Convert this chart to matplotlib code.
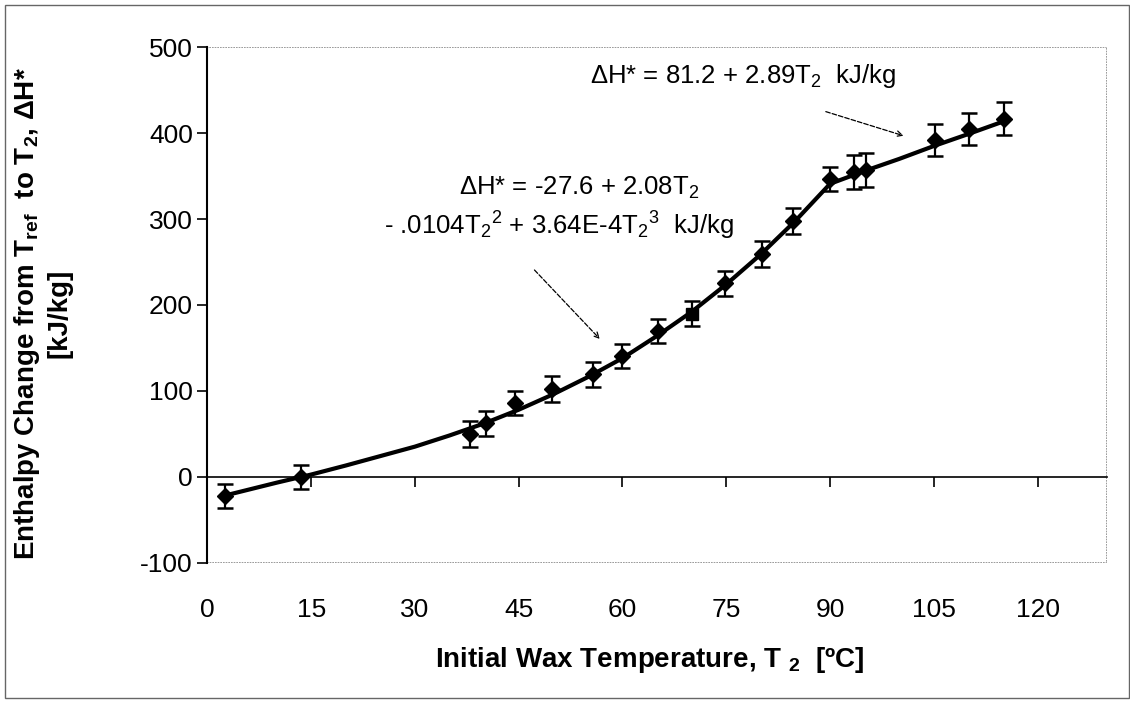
import numpy as np
import matplotlib
matplotlib.use("Agg")
import matplotlib.pyplot as plt
from matplotlib.patches import Rectangle
from matplotlib.transforms import ScaledTranslation

plt.rcParams['font.family'] = ['Liberation Sans', 'DejaVu Sans']
plt.rcParams['mathtext.fontset'] = 'custom'
plt.rcParams['mathtext.rm'] = 'Liberation Sans'
plt.rcParams['mathtext.bf'] = 'Liberation Sans:bold'
plt.rcParams['mathtext.default'] = 'rm'
plt.rcParams['axes.unicode_minus'] = False

# dados medidos (diamantes)
temps = [2.5, 13.5, 38, 40.3, 44.5, 49.8, 55.8, 60, 65.1, 74.8, 80.1, 84.6, 90, 93.4, 95.2, 105.1, 110.1, 115.2]
enth = [-22, 0, 50, 62, 86, 102, 119, 140, 170, 225, 259, 298, 347, 355, 357, 392, 405, 417]
err = [14, 14, 15, 15, 14, 15, 15, 14, 14, 15, 15, 15, 14, 20, 20, 19, 19, 19]

# ponto quadrado
sq_temp = [70]
sq_enth = [190]
sq_err = [15]

# curva ajustada
fit_t = [2.5, 5, 10, 15, 20, 25, 30, 35, 40, 45, 50, 55, 60, 65, 70, 75, 80, 85, 90, 95, 100, 105, 110, 115.2]
fit_h = [-22, -17, -7, 2.5, 13, 24, 35, 48, 62, 78, 96, 116, 138, 164, 192, 224, 259, 298, 341, 356, 370, 385, 399, 414]

xticks = [0, 15, 30, 45, 60, 75, 90, 105, 120]
yticks = [-100, 0, 100, 200, 300, 400, 500]

fig = plt.figure(figsize=(11.3, 7.05), dpi=100)
ax = fig.add_axes([0.1835, 0.202, 0.796, 0.731])

ax.plot(fit_t, fit_h, color='black', lw=3, zorder=2)
ax.errorbar(temps, enth, yerr=err, fmt='D', color='black', ms=8,
            ecolor='black', elinewidth=1.6, capsize=6, capthick=1.8, zorder=3)
ax.errorbar(sq_temp, sq_enth, yerr=sq_err, fmt='s', color='black', ms=9,
            ecolor='black', elinewidth=1.6, capsize=6, capthick=1.8, zorder=3)

ax.set_xlim(0, 130)
ax.set_ylim(-100, 500)
ax.set_xticks(xticks)
ax.set_yticks(yticks)
ax.tick_params(axis='both', labelsize=19, direction='out', length=7, width=1.2, color='black')
ax.tick_params(axis='x', pad=0)

# eixo x passa pelo zero
ax.spines['bottom'].set_position(('data', 0))
ax.spines['bottom'].set_linewidth(1.2)
ax.spines['left'].set_linewidth(1.5)
for s in ['top', 'right']:
    ax.spines[s].set_visible(False)
ax.add_patch(Rectangle((0, 0), 1, 1, transform=ax.transAxes, fill=False,
                       edgecolor='#8a8a8a', lw=1.2, ls=(0, (1, 0.6)), zorder=0))

# rotulos do eixo x ficam embaixo da area
for lab in ax.get_xticklabels():
    lab.set_transform(lab.get_transform() + ScaledTranslation(0, -1.12, fig.dpi_scale_trans))

fig.text(0.575, 0.064, r'Initial Wax Temperature, T $_\mathbf{2}$  [ºC]', fontsize=20,
         fontweight='bold', ha='center', va='center')
fig.text(0.024, 0.555, r'Enthalpy Change from T$_\mathbf{ref}$  to T$_\mathbf{2}$, ΔH*', fontsize=20,
         fontweight='bold', rotation=90, ha='center', va='center')
fig.text(0.053, 0.555, '[kJ/kg]', fontsize=20, fontweight='bold', rotation=90,
         ha='center', va='center')

# equacoes
ax.text(55.3, 466, r'ΔH* = 81.2 + 2.89T$_2$  kJ/kg', fontsize=18.5, ha='left', va='center')
ax.text(53.8, 336, r'ΔH* = -27.6 + 2.08T$_2$', fontsize=18.5, ha='center', va='center')
ax.text(50.8, 292, r'- .0104T$_2$${}^2$ + 3.64E-4T$_2$${}^3$  kJ/kg', fontsize=18.5,
        ha='center', va='center')

ax.annotate('', xy=(101, 396), xytext=(89, 426),
            arrowprops=dict(arrowstyle='->', color='black', lw=0.9, ls='--'))
ax.annotate('', xy=(57, 158), xytext=(47, 243),
            arrowprops=dict(arrowstyle='->', color='black', lw=0.9, ls='--'))

# moldura externa
fig.patches.append(Rectangle((0.004, 0.01), 0.995, 0.983, transform=fig.transFigure,
                             fill=False, edgecolor='#666666', lw=1.0))

fig.savefig('out.png', dpi=100)
